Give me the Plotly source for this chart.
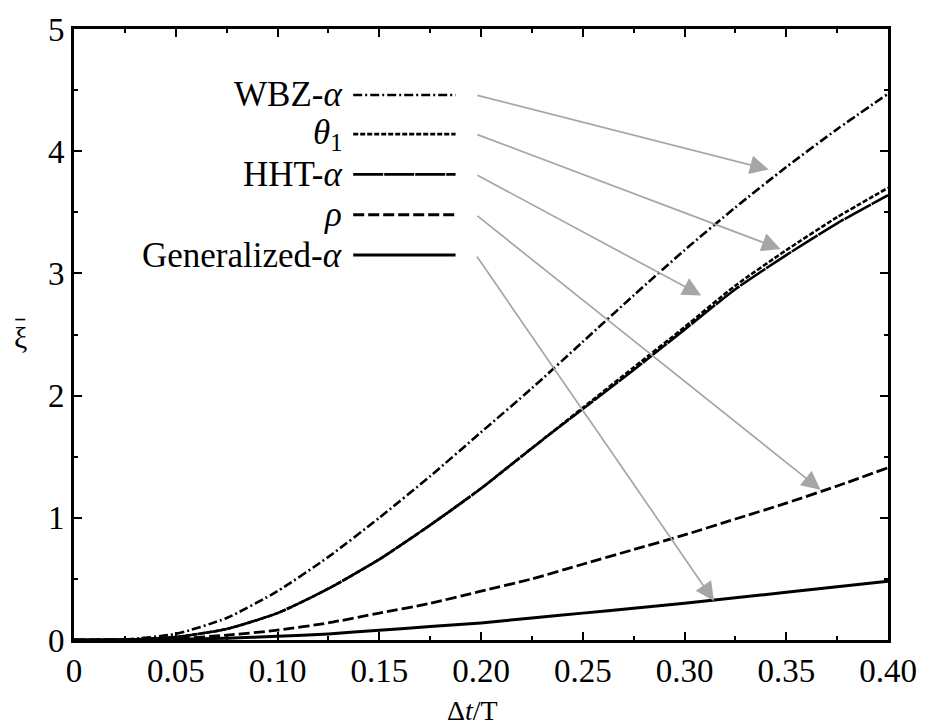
import plotly.graph_objects as go

# Step ratio dt/T
dt_ratio = [0.0, 0.025, 0.05, 0.075, 0.10, 0.125, 0.15, 0.175, 0.20,
            0.225, 0.25, 0.275, 0.30, 0.325, 0.35, 0.375, 0.40]

# Numerical damping ratio for each scheme
xi_wbz = [0.0, 0.005, 0.05, 0.18, 0.40, 0.68, 1.00, 1.34, 1.70,
          2.06, 2.44, 2.82, 3.19, 3.54, 3.87, 4.18, 4.47]
xi_theta1 = [0.0, 0.003, 0.025, 0.09, 0.22, 0.42, 0.66, 0.94, 1.24,
             1.57, 1.90, 2.23, 2.56, 2.90, 3.19, 3.46, 3.70]
xi_hht = [0.0, 0.003, 0.025, 0.09, 0.22, 0.42, 0.66, 0.94, 1.24,
          1.57, 1.89, 2.21, 2.54, 2.87, 3.15, 3.41, 3.64]
xi_rho = [0.0, 0.002, 0.01, 0.04, 0.08, 0.14, 0.22, 0.30, 0.40,
          0.50, 0.62, 0.74, 0.86, 0.99, 1.12, 1.26, 1.41]
xi_gen = [0.0, 0.001, 0.005, 0.015, 0.03, 0.05, 0.08, 0.11, 0.14,
          0.18, 0.22, 0.26, 0.30, 0.345, 0.39, 0.435, 0.48]

names = ["WBZ-<i>α</i>", "<i>θ</i><sub>1</sub>", "HHT-<i>α</i>", "<i>ρ</i>",
         "Generalized-<i>α</i>"]
series = [xi_wbz, xi_theta1, xi_hht, xi_rho, xi_gen]
dashes = ["9px,3px,2px,3px", "5px,2px", "30px,1px", "11px,4px", "solid"]
widths = [2.6, 2.6, 2.6, 2.8, 3.0]

# Legend rows (y) and where each callout arrow lands on its curve
legend_y = [4.46, 4.14, 3.81, 3.48, 3.15]
arrow_tip_x = [0.3414, 0.3472, 0.3082, 0.3668, 0.3145]
arrow_tip_y = [3.85, 3.20, 2.82, 1.23, 0.32]

FONT = "Liberation Serif"

fig = go.Figure()
for name, ys, d, w in zip(names, series, dashes, widths):
    fig.add_trace(go.Scatter(x=dt_ratio, y=ys, mode="lines", name=name,
                             line=dict(color="black", width=w, dash=d,
                                       shape="spline", smoothing=0.6),
                             showlegend=False))

# Hand-placed key: label, sample line, and grey arrow to the curve
for name, ly, d, w, tx, ty in zip(names, legend_y, dashes, widths,
                                  arrow_tip_x, arrow_tip_y):
    fig.add_annotation(x=0.1325, y=ly, xref="x", yref="y", text=name,
                       showarrow=False, xanchor="right", yanchor="middle",
                       font=dict(family=FONT, size=35, color="black"))
    fig.add_trace(go.Scatter(x=[0.1372, 0.1875], y=[ly, ly], mode="lines",
                             line=dict(color="black", width=w, dash=d),
                             showlegend=False, hoverinfo="skip"))
    fig.add_annotation(x=tx, y=ty, ax=0.1975, ay=ly, xref="x", yref="y",
                       axref="x", ayref="y", text="", showarrow=True,
                       arrowhead=2, arrowsize=2.2, arrowwidth=1.7,
                       arrowcolor="#a6a6a6")

# y-axis symbol: xi with an overbar
fig.add_annotation(x=-0.066, y=0.495, xref="paper", yref="paper",
                   xanchor="center", yanchor="middle",
                   text="ξ", showarrow=False,
                   font=dict(family=FONT, size=30, color="black"))
fig.add_shape(type="line", xref="paper", yref="paper",
              xsizemode="pixel", ysizemode="pixel",
              xanchor=-0.066, yanchor=0.495,
              x0=-5, x1=5, y0=18, y1=18,
              line=dict(color="black", width=1.6))

fig.add_annotation(x=0.49, y=-0.116, xref="paper", yref="paper",
                   text="Δ<i>t</i>/T", showarrow=False, yanchor="middle",
                   font=dict(family=FONT, size=28, color="black"))

axis_common = dict(showline=True, linecolor="black", linewidth=2.6,
                   mirror="ticks", ticks="inside", ticklen=8, tickwidth=1.8,
                   tickcolor="black", showgrid=False, zeroline=False,
                   tickfont=dict(family=FONT, size=33, color="black"))

fig.update_xaxes(range=[0, 0.40], tickvals=[0, 0.05, 0.10, 0.15, 0.20, 0.25,
                                            0.30, 0.35, 0.40],
                 ticktext=["0", "0.05", "0.10", "0.15", "0.20", "0.25",
                           "0.30", "0.35", "0.40"],
                 minor=dict(ticks="inside", ticklen=4, dtick=0.025,
                            tickcolor="black", tickwidth=1.5),
                 **axis_common)
fig.update_yaxes(range=[0, 5], dtick=1,
                 minor=dict(ticks="inside", ticklen=4, dtick=0.5,
                            tickcolor="black", tickwidth=1.5),
                 **axis_common)

fig.update_layout(width=929, height=726,
                  margin=dict(l=74, r=36, t=20, b=86),
                  plot_bgcolor="white", paper_bgcolor="white")

fig.write_html("out.html")
